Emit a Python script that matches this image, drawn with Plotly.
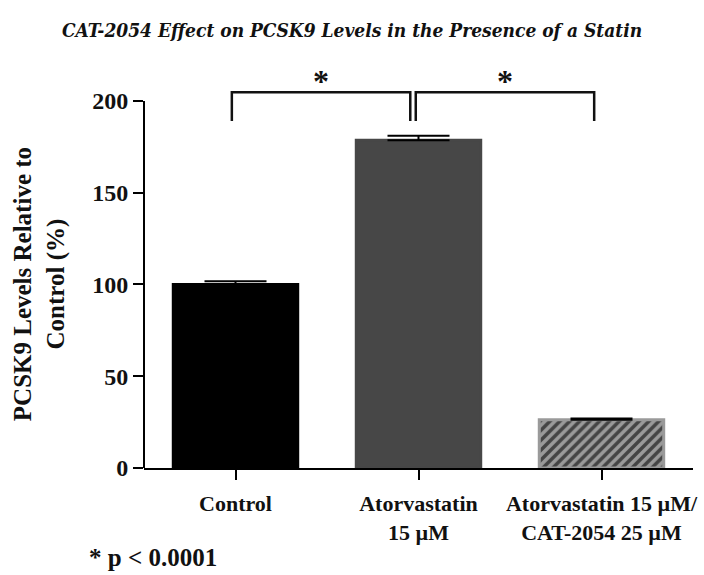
import plotly.graph_objects as go

# Treatment groups and measured PCSK9 levels (% of control) with SEM
groups = ["Control", "Atorvastatin<br>15 µM", "Atorvastatin 15 µM/<br>CAT-2054 25 µM"]
pcsk9_pct = [100.0, 178.5, 26.3]
sem_pct = [1.8, 2.5, 0.6]
y_ticks = [0, 50, 100, 150, 200]

bar_colors = ["#000000", "#474747", "#9a9a9a"]
serif = "Liberation Serif, Times New Roman, serif"

W, H = 704, 575
ML, MR, MT, MB = 144, 7, 55, 107
plot_w = W - ML - MR
plot_h = H - MT - MB


def px_x(px):
    return (px - ML) / plot_w


def px_y(py):
    return (H - MB - py) / plot_h


fig = go.Figure()
fig.add_trace(go.Bar(
    x=[0, 1, 2],
    y=pcsk9_pct,
    width=0.68,
    marker=dict(
        color=bar_colors,
        line=dict(color=bar_colors, width=3),
        pattern=dict(
            shape=["", "", "/"],
            fgcolor="#000000",
            fgopacity=1,
            bgcolor=bar_colors,
            size=7,
            solidity=0.5,
            fillmode="overlay",
        ),
    ),
    error_y=dict(
        type="data",
        array=sem_pct,
        arrayminus=[0, 0, 0],
        symmetric=False,
        color="#000000",
        thickness=2,
        width=31,
    ),
    showlegend=False,
))

# Significance brackets and stars
brackets = [(-0.02, 0.955), (0.985, 1.96)]
for x0, x1 in brackets:
    fig.add_shape(
        type="path",
        path=f"M {x0} 189 L {x0} 204.7 L {x1} 204.7 L {x1} 189",
        xref="x", yref="y",
        line=dict(color="#111111", width=2.5),
    )
    fig.add_annotation(
        x=(x0 + x1) / 2, y=211, xref="x", yref="y",
        text="<b>*</b>", showarrow=False,
        font=dict(family=serif, size=32, color="#111111"),
    )

# Y axis line spanning only 0-200
fig.add_shape(
    type="line", xref="paper", yref="y",
    x0=0, x1=0, y0=0, y1=200,
    line=dict(color="#000000", width=2),
)

# Y axis title centred on the 0-200 span
fig.add_annotation(
    x=px_x(39), y=100, xref="paper", yref="y",
    xanchor="center", yanchor="middle",
    text="<b>PCSK9 Levels Relative to<br>Control (%)</b>",
    textangle=-90, showarrow=False,
    font=dict(family=serif, size=25, color="#111111"),
)

# Footnote
fig.add_annotation(
    x=px_x(87), y=px_y(557), xref="paper", yref="paper",
    xanchor="left", yanchor="middle",
    text="<b>* p < 0.0001</b>", showarrow=False,
    font=dict(family=serif, size=25, color="#111111"),
)

fig.update_layout(
    width=W, height=H,
    margin=dict(l=ML, r=MR, t=MT, b=MB),
    paper_bgcolor="white",
    plot_bgcolor="white",
    title=dict(
        text="<b><i>CAT-2054 Effect on PCSK9 Levels in the Presence of a Statin</i></b>",
        x=0.5, xref="container", xanchor="center",
        y=1 - 30 / H, yref="container", yanchor="middle",
        font=dict(family="DejaVu Serif Condensed, DejaVu Serif, serif", size=19, color="#111111"),
    ),
    xaxis=dict(
        range=[-0.5, 2.5],
        tickvals=[0, 1, 2],
        ticktext=[f"<b>{g}</b>" for g in groups],
        showline=True, linecolor="#000000", linewidth=2,
        ticks="outside", ticklen=10, tickwidth=2, tickcolor="#000000",
        ticklabelstandoff=5,
        tickfont=dict(family=serif, size=22, color="#111111"),
        showgrid=False, zeroline=False,
        fixedrange=True,
    ),
    yaxis=dict(
        range=[0, 225],
        tickvals=y_ticks,
        ticktext=[f"<b>{v}</b>" for v in y_ticks],
        showline=False,
        ticks="outside", ticklen=10, tickwidth=2, tickcolor="#000000",
        tickfont=dict(family=serif, size=24, color="#111111"),
        showgrid=False, zeroline=False,
        fixedrange=True,
    ),
)

fig.write_html("out.html")
